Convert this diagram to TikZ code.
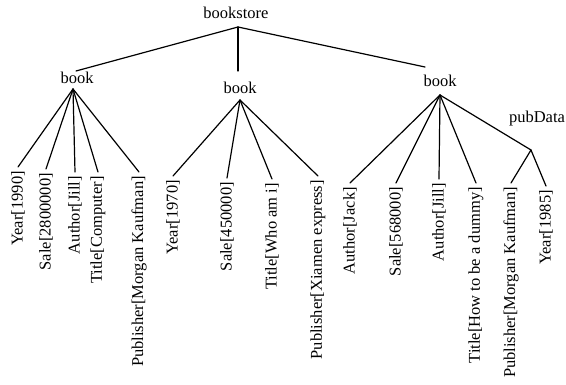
\documentclass[tikz,border=0pt]{standalone}
\usepackage{fontspec}
\setmainfont{Liberation Serif}
\usetikzlibrary{positioning}

\begin{document}
\begin{tikzpicture}[x=1pt,y=-1pt]
\tikzset{
  treelabel/.style={inner sep=0pt,anchor=base,font=\fontsize{16.5}{18}\selectfont},
  leaflabel/.style={inner sep=4pt,rotate=90,anchor=east,font=\fontsize{16.5}{18}\selectfont},
  treeedge/.style={draw=black,line width=1.2pt,line cap=round,line join=round}
}
\useasboundingbox (0,0) rectangle (566,385);
\node[treelabel] (n_store) at (236,19) {bookstore};
\node[treelabel] (n_book1) at (77,84) {book};
\node[treelabel] (n_book2) at (240,94) {book};
\node[treelabel] (n_book3) at (440,87) {book};
\node[treelabel] (n_pub) at (537,123) {pubData};
\coordinate (j_store) at (238,27);
\coordinate (t_book1) at (76,71);
\coordinate (t_book2) at (238,71);
\coordinate (t_book3) at (425,67);
\coordinate (j_book1) at (73,89);
\coordinate (j_book2) at (240,100);
\coordinate (j_book3) at (440,95);
\coordinate (j_pub) at (531,150);
% first book
\node[leaflabel] (n_b1_year) at (18,167) {Year[1990]};
\node[leaflabel] (n_b1_sale) at (46,169) {Sale[2800000]};
\node[leaflabel] (n_b1_author) at (75,172) {Author[Jill]};
\node[leaflabel] (n_b1_title) at (98,172) {Title[Computer]};
\node[leaflabel] (n_b1_publisher) at (139,172) {Publisher[Morgan Kaufman]};
% second book
\node[leaflabel] (n_b2_year) at (173,176) {Year[1970]};
\node[leaflabel] (n_b2_sale) at (227,178) {Sale[450000]};
\node[leaflabel] (n_b2_title) at (272,179) {Title[Who am i]};
\node[leaflabel] (n_b2_publisher) at (318,176) {Publisher[Xiamen express]};
% third book
\node[leaflabel] (n_b3_author) at (350,183) {Author[Jack]};
\node[leaflabel] (n_b3_sale) at (396,183) {Sale[568000]};
\node[leaflabel] (n_b3_author2) at (439,179) {Author[Jill]};
\node[leaflabel] (n_b3_title) at (476,183) {Title[How to be a dummy]};
\node[leaflabel] (n_p_publisher) at (511,183) {Publisher[Morgan Kaufman]};
\node[leaflabel] (n_p_year) at (546,186) {Year[1985]};
\draw[treeedge] (j_store) -- (t_book1);
\draw[treeedge] (j_store) -- (t_book2);
\draw[treeedge] (j_store) -- (t_book3);
\draw[treeedge] (j_book1) -- (n_b1_year.east);
\draw[treeedge] (j_book1) -- (n_b1_sale.east);
\draw[treeedge] (j_book1) -- (n_b1_author.east);
\draw[treeedge] (j_book1) -- (n_b1_title.east);
\draw[treeedge] (j_book1) -- (n_b1_publisher.east);
\draw[treeedge] (j_book2) -- (n_b2_year.east);
\draw[treeedge] (j_book2) -- (n_b2_sale.east);
\draw[treeedge] (j_book2) -- (n_b2_title.east);
\draw[treeedge] (j_book2) -- (n_b2_publisher.east);
\draw[treeedge] (j_book3) -- (n_b3_author.east);
\draw[treeedge] (j_book3) -- (n_b3_sale.east);
\draw[treeedge] (j_book3) -- (n_b3_author2.east);
\draw[treeedge] (j_book3) -- (n_b3_title.east);
\draw[treeedge] (j_book3) -- (j_pub);
\draw[treeedge] (j_pub) -- (n_p_publisher.east);
\draw[treeedge] (j_pub) -- (n_p_year.east);
\end{tikzpicture}
\end{document}
